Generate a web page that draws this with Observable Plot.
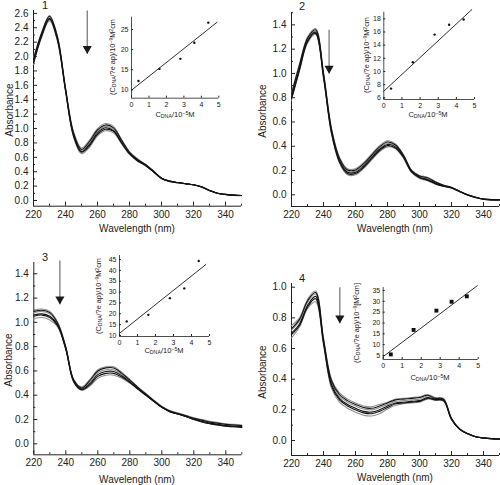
<!DOCTYPE html>
<html><head><meta charset="utf-8">
<script src="https://cdn.jsdelivr.net/npm/d3@7"></script>
<script src="https://cdn.jsdelivr.net/npm/@observablehq/plot@0.6"></script>
<style>
body{margin:0;background:#fff;}
#fig{position:relative;width:500px;height:485px;overflow:hidden;background:#fff;}
#fig svg{position:absolute;overflow:visible;}
</style></head><body><div id="fig"></div>
<script>
// ---------------- data ----------------
const wavelengths = [220,225,230,235,240,245,250,255,260,265,270,275,280,285,290,295,300,305,310,315,320,325,330,335,340,345,350];
const xTicks = [220,240,260,280,300,320,340];
const xMinorTicks = [230,250,270,290,310,330,350];
const lineShades = ["gray","black","gray","black","black","gray"];

const p1Curves = [
 [1.98,2.33,2.57,2.28,1.57,0.96,0.73,0.84,1.00,1.07,1.03,0.85,0.68,0.58,0.50,0.41,0.31,0.27,0.25,0.235,0.22,0.19,0.14,0.10,0.085,0.075,0.07],
 [1.96,2.32,2.56,2.27,1.56,0.94,0.71,0.82,0.98,1.05,1.01,0.84,0.67,0.57,0.50,0.41,0.31,0.27,0.25,0.235,0.22,0.19,0.14,0.10,0.085,0.075,0.07],
 [1.94,2.31,2.55,2.26,1.55,0.93,0.70,0.80,0.96,1.03,0.99,0.83,0.66,0.56,0.49,0.40,0.31,0.27,0.25,0.235,0.22,0.19,0.14,0.10,0.085,0.075,0.07],
 [1.92,2.29,2.53,2.24,1.54,0.91,0.68,0.78,0.94,1.01,0.97,0.81,0.65,0.56,0.49,0.40,0.31,0.27,0.25,0.235,0.22,0.19,0.14,0.10,0.085,0.075,0.07],
 [1.91,2.28,2.52,2.23,1.53,0.90,0.67,0.76,0.92,0.99,0.96,0.80,0.65,0.55,0.49,0.40,0.31,0.265,0.248,0.233,0.218,0.188,0.138,0.10,0.084,0.074,0.069],
 [1.89,2.26,2.50,2.21,1.52,0.88,0.65,0.74,0.90,0.97,0.94,0.79,0.64,0.55,0.48,0.40,0.30,0.262,0.245,0.23,0.215,0.185,0.135,0.098,0.082,0.072,0.067]
];
const p2Curves = [
 [0.84,1.08,1.30,1.37,1.01,0.55,0.31,0.215,0.215,0.265,0.335,0.405,0.445,0.42,0.33,0.205,0.16,0.145,0.11,0.08,0.062,0.03,0.0,-0.02,-0.035,-0.04,-0.04],
 [0.83,1.07,1.29,1.36,1.00,0.54,0.30,0.205,0.205,0.255,0.325,0.395,0.435,0.41,0.325,0.20,0.155,0.14,0.105,0.078,0.061,0.03,0.0,-0.02,-0.035,-0.04,-0.04],
 [0.81,1.05,1.28,1.35,0.99,0.53,0.29,0.195,0.195,0.245,0.315,0.385,0.425,0.405,0.32,0.195,0.15,0.13,0.10,0.075,0.06,0.03,0.0,-0.02,-0.035,-0.04,-0.04],
 [0.80,1.04,1.27,1.34,0.98,0.52,0.28,0.185,0.185,0.235,0.305,0.375,0.415,0.395,0.315,0.19,0.145,0.125,0.095,0.072,0.058,0.028,0.0,-0.02,-0.035,-0.04,-0.042],
 [0.79,1.03,1.26,1.33,0.97,0.51,0.27,0.175,0.175,0.225,0.295,0.365,0.405,0.385,0.31,0.19,0.14,0.12,0.09,0.07,0.057,0.027,-0.002,-0.022,-0.036,-0.042,-0.043],
 [0.78,1.02,1.25,1.32,0.96,0.50,0.26,0.165,0.165,0.215,0.285,0.355,0.395,0.38,0.30,0.185,0.135,0.115,0.088,0.068,0.055,0.025,-0.004,-0.024,-0.038,-0.044,-0.045]
];
const p3Curves = [
 [1.10,1.11,1.09,1.00,0.80,0.53,0.47,0.53,0.61,0.635,0.635,0.59,0.53,0.47,0.415,0.36,0.31,0.275,0.255,0.235,0.215,0.20,0.185,0.175,0.165,0.16,0.155],
 [1.09,1.10,1.08,0.99,0.795,0.525,0.46,0.52,0.60,0.625,0.625,0.58,0.525,0.465,0.41,0.355,0.305,0.27,0.25,0.23,0.21,0.195,0.18,0.17,0.16,0.155,0.15],
 [1.08,1.09,1.07,0.985,0.79,0.52,0.455,0.505,0.585,0.61,0.61,0.57,0.52,0.46,0.41,0.355,0.305,0.27,0.25,0.23,0.21,0.19,0.175,0.165,0.155,0.15,0.145],
 [1.06,1.07,1.05,0.975,0.785,0.515,0.45,0.495,0.57,0.595,0.595,0.56,0.51,0.455,0.405,0.35,0.30,0.265,0.245,0.225,0.205,0.185,0.17,0.16,0.15,0.145,0.14],
 [1.05,1.06,1.04,0.97,0.78,0.51,0.445,0.485,0.555,0.58,0.58,0.55,0.505,0.45,0.40,0.35,0.30,0.265,0.245,0.225,0.20,0.18,0.165,0.155,0.145,0.14,0.135],
 [1.03,1.04,1.02,0.96,0.775,0.505,0.44,0.475,0.54,0.565,0.565,0.54,0.50,0.45,0.40,0.35,0.30,0.265,0.245,0.225,0.20,0.18,0.165,0.155,0.145,0.14,0.135]
];
const p4Curves = [
 [0.75,0.80,0.92,0.975,0.67,0.40,0.31,0.27,0.245,0.225,0.22,0.235,0.25,0.27,0.275,0.28,0.285,0.30,0.28,0.275,0.145,0.077,0.046,0.026,0.018,0.013,0.011],
 [0.73,0.79,0.91,0.965,0.66,0.39,0.30,0.26,0.235,0.215,0.21,0.225,0.245,0.265,0.27,0.275,0.28,0.295,0.275,0.27,0.143,0.076,0.045,0.025,0.017,0.012,0.01],
 [0.72,0.78,0.90,0.955,0.655,0.38,0.29,0.25,0.225,0.205,0.20,0.215,0.235,0.255,0.26,0.265,0.27,0.29,0.272,0.267,0.14,0.075,0.045,0.025,0.017,0.012,0.01],
 [0.70,0.76,0.88,0.94,0.645,0.365,0.275,0.235,0.21,0.19,0.185,0.20,0.225,0.245,0.25,0.255,0.26,0.28,0.268,0.263,0.14,0.075,0.045,0.025,0.017,0.012,0.01],
 [0.69,0.75,0.87,0.925,0.635,0.355,0.265,0.225,0.20,0.18,0.175,0.19,0.215,0.24,0.245,0.25,0.255,0.275,0.265,0.26,0.138,0.074,0.044,0.024,0.016,0.011,0.009],
 [0.67,0.74,0.86,0.905,0.625,0.34,0.25,0.21,0.185,0.165,0.16,0.175,0.205,0.23,0.24,0.245,0.25,0.27,0.262,0.257,0.135,0.073,0.043,0.024,0.016,0.011,0.009]
];

// arrows (wavelength, absorbance from -> to)
const p1Arrow = [{x: 253.6, from: 2.64, to: 2.04}];
const p2Arrow = [{x: 243.5, from: 1.36, to: 1.00}];
const p3Arrow = [{x: 236.3, from: 1.51, to: 1.15}];
const p4Arrow = [{x: 250.2, from: 1.00, to: 0.765}];

// insets
const cDNA = [0.4, 1.6, 2.8, 3.6, 4.4];
const insetXTicks = [0, 1, 2, 3, 4, 5];
const ratio1 = [12.2, 15.2, 17.7, 21.7, 26.7];
const ratio2 = [7.4, 11.4, 15.6, 17.1, 17.9];
const ratio3 = [16.5, 19.5, 27.2, 31.7, 44.3];
const ratio4 = [5.5, 16.8, 25.7, 29.8, 32.3];
const fit1 = [[0, 9.9], [4.9, 26.8]];
const fit2 = [[0, 7.0], [4.85, 19.4]];
const fit3 = [[0, 11.0], [4.8, 42.7]];
const fit4 = [[0, 4.5], [4.95, 37.2]];
const inset1YTicks = [10, 15, 20, 25];
const inset2YTicks = [6, 8, 10, 12, 14, 16, 18];
const inset3YTicks = [10, 15, 20, 25, 30, 35, 40, 45];
const inset4YTicks = [5, 10, 15, 20, 25, 30, 35];

// ---------------- drawing ----------------
const FONT = '"Liberation Sans", Arial, Helvetica, sans-serif';
const GRAY = "#8e8e8e", BLACK = "#121212", AXIS = "#222";
const fig = document.getElementById("fig");
function place(svg, left, top) {
  svg.style.left = left + "px"; svg.style.top = top + "px";
  fig.appendChild(svg);
}

function mainPanel(c) {
  const yt = d3.range(0, c.yMax + 1e-9, 0.2).map(v => +v.toFixed(1));
  const ym = d3.range(0.1, c.yDomain[1], 0.2).map(v => +v.toFixed(1));
  const marks = [
    Plot.ruleX([220], {stroke: AXIS, strokeWidth: 1}),
    Plot.ruleY([c.yDomain[0]], {stroke: AXIS, strokeWidth: 1}),
    Plot.axisX({ticks: xTicks, tickSize: -4, tickPadding: 8.5, tickFormat: d => String(d), label: null}),
    Plot.axisX({ticks: xMinorTicks, tickSize: -2, tickFormat: () => "", label: null}),
    Plot.axisY({ticks: yt, tickSize: -4, tickPadding: 9, tickFormat: d3.format(".1f"), label: null}),
    Plot.axisY({ticks: ym, tickSize: -2, tickFormat: () => "", label: null})
  ];
  // gray curves below, black curves on top
  ["gray", "black"].forEach(shade => {
    c.curves.forEach((curve, i) => {
      if (lineShades[i] !== shade) return;
      marks.push(Plot.line(curve, {x: (d, j) => wavelengths[j], y: d => d,
        stroke: shade === "gray" ? GRAY : BLACK, strokeWidth: 1.1, curve: "catmull-rom"}));
    });
  });
  marks.push(Plot.link(c.arrow, {x1: "x", x2: "x", y1: "from", y2: "to", stroke: "#7a7a7a", strokeWidth: 1.3}));
  marks.push(Plot.dot(c.arrow, {x: "x", y: "to", symbol: "triangle", rotate: 180, r: 3.4, fill: "#1a1a1a", stroke: "none", dy: -5}));
  const svg = Plot.plot({
    width: c.w, height: c.h,
    marginLeft: c.ml, marginRight: c.mr, marginTop: c.mt, marginBottom: c.mb,
    x: {domain: [220, 350]},
    y: {domain: c.yDomain},
    style: {fontFamily: FONT, fontSize: "10px", background: "transparent", color: AXIS, overflow: "visible"},
    marks
  });
  place(svg, c.left, c.top);
}

function insetPanel(c) {
  const svg = Plot.plot({
    width: c.w, height: c.h,
    marginLeft: c.ml, marginRight: c.mr, marginTop: c.mt, marginBottom: c.mb,
    x: {domain: [0, 5]},
    y: {domain: c.yDomain},
    style: {fontFamily: FONT, fontSize: "7px", background: "transparent", color: AXIS, overflow: "visible"},
    marks: [
      Plot.ruleX([0], {y1: c.yDomain[0], y2: c.axisTop, stroke: AXIS, strokeWidth: 0.8}),
      Plot.ruleY([c.yDomain[0]], {stroke: AXIS, strokeWidth: 0.8}),
      Plot.axisX({ticks: insetXTicks, tickSize: -2, tickPadding: 5.5, tickFormat: d => String(d), label: null}),
      Plot.axisY({ticks: c.yTicks, tickSize: -2, tickPadding: 5, tickFormat: d => String(d), label: null}),
      Plot.line(c.fit, {x: d => d[0], y: d => d[1], stroke: "#1a1a1a", strokeWidth: 0.9}),
      Plot.dot(c.ratio, {x: (d, i) => cDNA[i], y: d => d, symbol: c.symbol, r: c.r, fill: "#111", stroke: "none"})
    ]
  });
  place(svg, c.left, c.top);
}

mainPanel({left: 0, top: 0, w: 250, h: 240, ml: 33, mr: 9, mt: 10, mb: 34.3,
  yDomain: [-0.079, 2.64], yMax: 2.6, curves: p1Curves, arrow: p1Arrow});
mainPanel({left: 250, top: 0, w: 250, h: 240, ml: 41, mr: 1, mt: 12, mb: 34,
  yDomain: [-0.0964, 1.502], yMax: 1.4, curves: p2Curves, arrow: p2Arrow});
mainPanel({left: 0, top: 240, w: 250, h: 245, ml: 33.3, mr: 8.7, mt: 22, mb: 30.7,
  yDomain: [-0.0906, 1.493], yMax: 1.4, curves: p3Curves, arrow: p3Arrow});
mainPanel({left: 250, top: 240, w: 250, h: 245, ml: 41, mr: 1, mt: 43, mb: 30,
  yDomain: [-0.0978, 1.024], yMax: 1.0, curves: p4Curves, arrow: p4Arrow});

insetPanel({left: 100, top: 0, w: 125, h: 120, ml: 31, mr: 6.7, mt: 16.7, mb: 22.3,
  yDomain: [7.91, 28.06], axisTop: 28.06, yTicks: inset1YTicks, ratio: ratio1, fit: fit1, symbol: "circle", r: 1.2});
insetPanel({left: 340, top: 0, w: 150, h: 125, ml: 43.3, mr: 16, mt: 9.1, mb: 26,
  yDomain: [5.74, 19.4], axisTop: 19.0, yTicks: inset2YTicks, ratio: ratio2, fit: fit2, symbol: "circle", r: 1.2});
insetPanel({left: 70, top: 245, w: 150, h: 125, ml: 49, mr: 11, mt: 10, mb: 34,
  yDomain: [9.54, 46.84], axisTop: 46.84, yTicks: inset3YTicks, ratio: ratio3, fit: fit3, symbol: "circle", r: 1.2});
insetPanel({left: 330, top: 270, w: 160, h: 120, ml: 52.7, mr: 12.3, mt: 17, mb: 31,
  yDomain: [3.15, 36.38], axisTop: 36.38, yTicks: inset4YTicks, ratio: ratio4, fit: fit4, symbol: "square", r: 2.2});

// ---------------- text overlay ----------------
const overlay = d3.create("svg").attr("width", 500).attr("height", 485)
  .style("left", "0px").style("top", "0px").style("pointer-events", "none")
  .attr("font-family", FONT).attr("fill", "#1a1a1a");
function rich(x, y, parts, size, rotate = 0) {
  const t = overlay.append("text")
    .attr("transform", `translate(${x},${y}) rotate(${rotate})`)
    .attr("text-anchor", "middle").attr("dy", "0.35em").attr("font-size", size);
  parts.forEach(([s, kind]) => {
    const ts = t.append("tspan").text(s);
    if (kind === "sub") ts.attr("font-size", size * 0.7).attr("baseline-shift", "-25%");
    if (kind === "sup") ts.attr("font-size", size * 0.7).attr("baseline-shift", "45%");
  });
}
// panel numbers
rich(45, 5.5, [["1"]], 11);
rich(302, 6.5, [["2"]], 11);
rich(45, 257.5, [["3"]], 11);
rich(302, 278.5, [["4"]], 11);
// main axis titles
[[9, 110], [262, 111], [8, 360], [262, 372]].forEach(([x, y]) => rich(x, y, [["Absorbance"]], 10, -90));
[[137, 228.7], [395, 228.5], [137, 479], [395, 477.5]].forEach(([x, y]) => rich(x, y, [["Wavelength (nm)"]], 10));
// inset titles
const yLab = [["(C"], ["DNA", "sub"], ["/?e ap)/10"], ["\u22129", "sup"], ["M"], ["2", "sup"], ["cm"]];
const yLab4 = [["(C"], ["DNA", "sub"], ["/?e ap)/10"], ["\u22129", "sup"], ["[M"], ["2", "sup"], ["cm]"]];
const xLab = [["C"], ["DNA", "sub"], ["/10"], ["\u22125", "sup"], ["M"]];
rich(112, 57, yLab, 7.3, -90);
rich(366, 55, yLab, 7.3, -90);
rich(98, 296, yLab, 7.3, -90);
rich(356, 323, yLab4, 7.3, -90);
rich(175, 114, xLab, 7.5);
rich(428, 114, xLab, 7.5);
rich(164, 350, xLab, 7.5);
rich(430, 377, xLab, 7.5);
fig.appendChild(overlay.node());
</script>
</body></html>
